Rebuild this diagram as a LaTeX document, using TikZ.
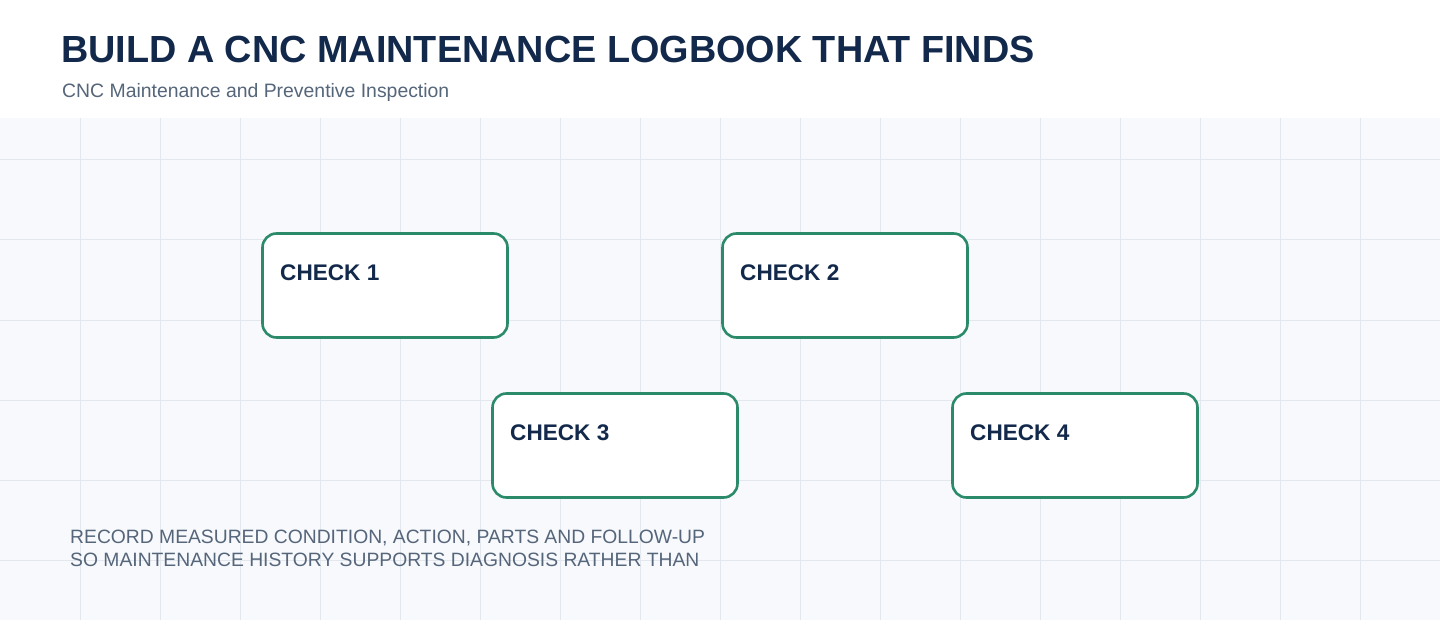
\documentclass[tikz,border=0pt]{standalone}
\usepackage{fontspec}
\setmainfont{Liberation Sans}
\definecolor{navy}{HTML}{13294B}
\definecolor{sub}{HTML}{55657A}
\definecolor{grn}{HTML}{2A8A6A}
\definecolor{bg}{HTML}{F7F9FC}
\definecolor{gl}{HTML}{E3E7EE}
\begin{document}
\begin{tikzpicture}[x=1pt,y=-1pt,
  box/.style={draw=grn,line width=2.6pt,fill=white,rounded corners=14pt,minimum width=245pt,minimum height=104pt,anchor=north west,inner sep=0pt,outer sep=0pt},
  lab/.style={anchor=base west,font=\fontsize{22.6}{26}\selectfont\bfseries,text=navy,inner sep=0pt},
  note/.style={anchor=base west,inner sep=0pt,font=\fontsize{19.3}{23}\selectfont,text=sub}]
\useasboundingbox (0,0) rectangle (1440,620);
\fill[white] (0,0) rectangle (1440,620);
\fill[bg] (0,118) rectangle (1440,620);
\foreach \x in {80,160,...,1360} \draw[gl,line width=1pt] (\x,118) -- (\x,620);
\foreach \y in {160,240,...,560} \draw[gl,line width=1pt] (0,\y) -- (1440,\y);
\node[anchor=base west,inner sep=0pt,font=\fontsize{37.8}{40}\selectfont\bfseries,text=navy] (title) at (61,63) {BUILD A CNC MAINTENANCE LOGBOOK THAT FINDS};
\node[anchor=base west,inner sep=0pt,font=\fontsize{19.4}{22}\selectfont,text=sub] (subt) at (62,98) {CNC Maintenance and Preventive Inspection};
\node[box] (b1) at (262.5,233.5) {};
\node[box] (b2) at (722.5,233.5) {};
\node[box] (b3) at (492.5,393.5) {};
\node[box] (b4) at (952.5,393.5) {};
\node[lab] (l1) at (280,280) {CHECK 1};
\node[lab] (l2) at (740,280) {CHECK 2};
\node[lab] (l3) at (510,440) {CHECK 3};
\node[lab] (l4) at (970,440) {CHECK 4};
\node[note] (n1) at (70,543) {RECORD MEASURED CONDITION, ACTION, PARTS AND FOLLOW-UP};
\node[note] (n2) at (70,566) {SO MAINTENANCE HISTORY SUPPORTS DIAGNOSIS RATHER THAN};
\end{tikzpicture}
\end{document}
